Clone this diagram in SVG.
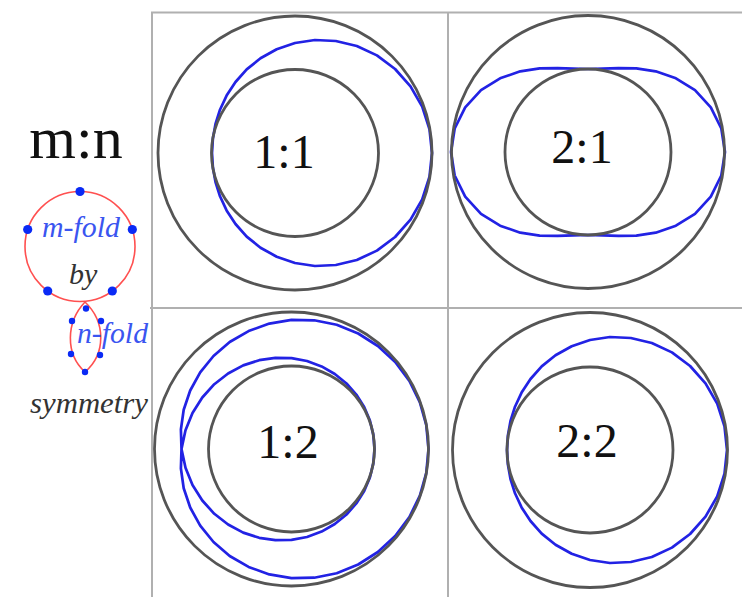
<svg xmlns="http://www.w3.org/2000/svg" xmlns:xlink="http://www.w3.org/1999/xlink" width="742" height="597" viewBox="0 0 742 597">
<style>
.grid{stroke:#b0b0b0;stroke-width:2;fill:none}
.ring{fill:none;stroke:#555555;stroke-width:2.8}
.curve{fill:none;stroke:#2222e4;stroke-width:2.7;stroke-linejoin:round}
.lbl{font-family:"Liberation Serif","Times New Roman",Times,serif;font-size:48px;fill:#111;text-anchor:middle}
.it{font-family:"Liberation Serif","Times New Roman",Times,serif;font-style:italic;font-size:30px}
.blue{fill:#3a55f0}
.dark{fill:#333}
.red{fill:none;stroke:#ff5050;stroke-width:1.6}
.dot{fill:#0a2af5}
</style>
<defs>
<path id="c11" d="M137,0 L134.5,-23.7 L127.2,-46.3 L115.5,-66.7 L100.1,-84 L81.9,-97.6 L61.8,-107 L40.8,-112 L19.9,-113 L0,-110 L-18.3,-103.7 L-34.5,-94.7 L-48.3,-83.6 L-59.5,-71 L-68.4,-57.4 L-75,-43.3 L-79.5,-29 L-82.1,-14.5 L-83,0 L-82.1,14.5 L-79.5,29 L-75,43.3 L-68.4,57.4 L-59.5,71 L-48.3,83.6 L-34.5,94.7 L-18.3,103.7 L0,110 L19.9,113 L40.8,112 L61.8,107 L81.9,97.6 L100.1,84 L115.5,66.7 L127.2,46.3 L134.5,23.7 Z"/>
<path id="c21" d="M137,0 L133.3,-23.5 L122.8,-44.7 L107,-61.8 L87.9,-73.7 L67.7,-80.7 L48.3,-83.6 L30.5,-83.9 L14.7,-83.3 L0,-83 L-14.7,-83.3 L-30.5,-83.9 L-48.3,-83.6 L-67.7,-80.7 L-87.9,-73.7 L-107,-61.8 L-122.8,-44.7 L-133.3,-23.5 L-137,0 L-133.3,23.5 L-122.8,44.7 L-107,61.8 L-87.9,73.7 L-67.7,80.7 L-48.3,83.6 L-30.5,83.9 L-14.7,83.3 L0,83 L14.7,83.3 L30.5,83.9 L48.3,83.6 L67.7,80.7 L87.9,73.7 L107,61.8 L122.8,44.7 L133.3,23.5 Z"/>
<path id="c12" d="M137,0 L134.8,-23.8 L128.4,-46.7 L117.9,-68 L103.7,-87 L86.4,-103 L66.7,-115.5 L45.2,-124.2 L22.7,-128.7 L0,-129.1 L-22.1,-125.4 L-42.9,-117.9 L-61.8,-107 L-78,-93 L-91.3,-76.6 L-101.3,-58.5 L-107.8,-39.2 L-110.6,-19.5 L-110,0 L-106,18.7 L-99,36 L-89.2,51.5 L-77.2,64.8 L-63.4,75.5 L-48.3,83.6 L-32.3,88.8 L-16.1,91.2 L0,90.9 L15.5,88 L30.1,82.6 L43.3,75 L55,65.5 L64.8,54.4 L72.7,42 L78.4,28.5 L81.8,14.4 L83,0 L81.8,-14.4 L78.4,-28.5 L72.7,-42 L64.8,-54.4 L55,-65.5 L43.3,-75 L30.1,-82.6 L15.5,-88 L0,-90.9 L-16.1,-91.2 L-32.3,-88.8 L-48.3,-83.6 L-63.4,-75.5 L-77.2,-64.8 L-89.2,-51.5 L-99,-36 L-106,-18.7 L-110,0 L-110.6,19.5 L-107.8,39.2 L-101.3,58.5 L-91.3,76.6 L-78,93 L-61.8,107 L-42.9,117.9 L-22.1,125.4 L0,129.1 L22.7,128.7 L45.2,124.2 L66.7,115.5 L86.4,103 L103.7,87 L117.9,68 L128.4,46.7 L134.8,23.8 Z"/>
</defs>
<g id="grid">
<path class="grid" d="M151,12.5 H742 M152,12 V597 M448,12 V597 M150,308 H742"/>
</g>
<g id="legend">
<text x="76" y="158" font-family="'Liberation Serif','Times New Roman',Times,serif" font-size="60" fill="#111" text-anchor="middle">m:n</text>
<circle class="red" cx="80" cy="246.5" r="55"/>
<path class="red" d="M85,302 C66,322 65,354 85,372 C106,354 106,322 85,302 Z"/>
<circle class="dot" cx="80" cy="191.5" r="4.6"/>
<circle class="dot" cx="132.3" cy="229.5" r="4.6"/>
<circle class="dot" cx="112.3" cy="291" r="4.6"/>
<circle class="dot" cx="47.7" cy="291" r="4.6"/>
<circle class="dot" cx="27.7" cy="229.5" r="4.6"/>
<circle class="dot" cx="86" cy="308.5" r="3.2"/>
<circle class="dot" cx="72" cy="321" r="3.2"/>
<circle class="dot" cx="101" cy="321" r="3.2"/>
<circle class="dot" cx="71" cy="354" r="3.2"/>
<circle class="dot" cx="100" cy="355" r="3.2"/>
<circle class="dot" cx="85" cy="372" r="3.2"/>
<text class="it blue" x="42" y="237" textLength="78" lengthAdjust="spacingAndGlyphs">m-fold</text>
<text class="it dark" x="69" y="284">by</text>
<text class="it blue" x="77" y="343" textLength="71" lengthAdjust="spacingAndGlyphs">n-fold</text>
<text class="it dark" x="30" y="413" textLength="118" lengthAdjust="spacingAndGlyphs">symmetry</text>
</g>
<g id="cell-1-1">
<use xlink:href="#c11" href="#c11" class="curve" transform="translate(295,153)"/>
<circle class="ring" cx="295" cy="153" r="137"/>
<circle class="ring" cx="295" cy="153" r="83.5"/>
<text class="lbl" x="284" y="168">1:1</text>
</g>
<g id="cell-2-1">
<use xlink:href="#c21" href="#c21" class="curve" transform="translate(588,152)"/>
<circle class="ring" cx="588" cy="152" r="136.5"/>
<circle class="ring" cx="588" cy="152" r="83"/>
<text class="lbl" x="582" y="163">2:1</text>
</g>
<g id="cell-1-2">
<use xlink:href="#c12" href="#c12" class="curve" transform="translate(291.5,449)"/>
<circle class="ring" cx="291.5" cy="449" r="137"/>
<circle class="ring" cx="291.5" cy="449" r="83"/>
<text class="lbl" x="288" y="458">1:2</text>
</g>
<g id="cell-2-2">
<use xlink:href="#c11" href="#c11" class="curve" transform="translate(590,450)"/>
<circle class="ring" cx="590" cy="450" r="137.5"/>
<circle class="ring" cx="590" cy="450" r="83"/>
<text class="lbl" x="587" y="457">2:2</text>
</g>
</svg>
